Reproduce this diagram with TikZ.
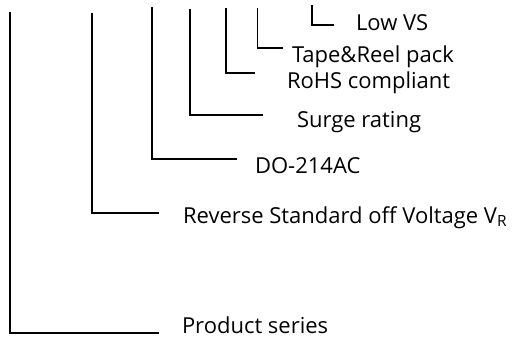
\documentclass[tikz,border=0pt]{standalone}
\usepackage{fontspec}
\setmainfont{Open Sans}
\begin{document}
\begin{tikzpicture}[x=1pt,y=-1pt,
  lead/.style={line width=1.8pt,black},
  lbl/.style={anchor=base west,inner sep=0pt,outer sep=0pt,font=\fontsize{22}{24}\selectfont}]
\useasboundingbox (0,0) rectangle (514,338);
% labels
\node[lbl] (ps) at (182,333) {Product series};
\node[lbl] (rv) at (183,223) {Reverse Standard off Voltage V\textsubscript{R}};
\node[lbl] (do) at (255,173) {DO-214AC};
\node[lbl] (sr) at (297,127) {Surge rating};
\node[lbl] (ro) at (287,88) {RoHS compliant};
\node[lbl] (tr) at (292,62) {Tape\&Reel pack};
\node[lbl] (lv) at (356,30) {Low VS};
% connector tops and ends
\coordinate (psT) at (9.7,12);   \coordinate (psE) at (159,333);
\coordinate (rvT) at (92.3,13);  \coordinate (rvE) at (159,213);
\coordinate (doT) at (152.3,7);  \coordinate (doE) at (237,159);
\coordinate (srT) at (190,9);    \coordinate (srE) at (263,115);
\coordinate (roT) at (226,8);    \coordinate (roE) at (255,72.7);
\coordinate (trT) at (257.5,8);  \coordinate (trE) at (283,48);
\coordinate (lvT) at (312,5);    \coordinate (lvE) at (334,25);
\draw[lead] (psT) |- (psE);
\draw[lead] (rvT) |- (rvE);
\draw[lead] (doT) |- (doE);
\draw[lead] (srT) |- (srE);
\draw[lead] (roT) |- (roE);
\draw[lead] (trT) |- (trE);
\draw[lead] (lvT) |- (lvE);
\end{tikzpicture}
\end{document}
